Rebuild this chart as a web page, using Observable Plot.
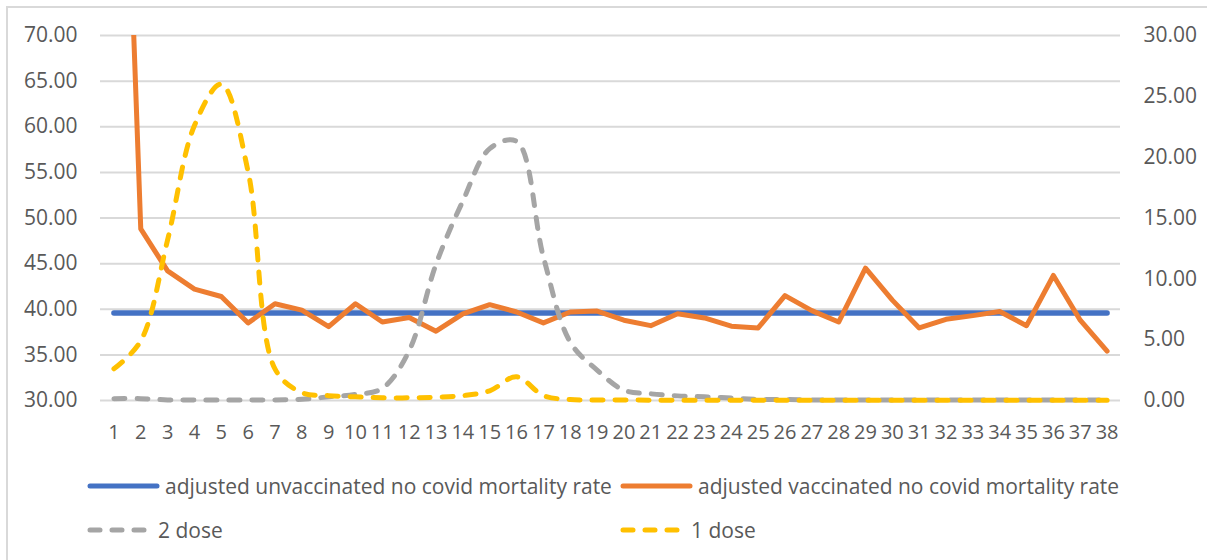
<!DOCTYPE html>
<html>
<head>
<meta charset="utf-8">
<script src="https://cdn.jsdelivr.net/npm/d3@7"></script>
<script src="https://cdn.jsdelivr.net/npm/@observablehq/plot@0.6"></script>
<style>
  html, body { margin: 0; padding: 0; background: #fff; overflow: hidden; }
  body { width: 1207px; height: 560px; position: relative; font-family: "Open Sans", sans-serif; color: #595959; }
  #frame { position: absolute; left: 6px; top: 6px; width: 1220px; height: 580px; border: 2px solid #d9d9d9; box-sizing: border-box; }
  #chart { position: absolute; left: 0; top: 0; }
  .leg { position: absolute; display: flex; align-items: center; font-size: 21px; color: #595959; white-space: nowrap; }
  .leg svg { margin-right: 4px; }
</style>
</head>
<body>
<div id="frame"></div>
<div id="chart"></div>
<div id="legend"></div>
<script>
// Categories (x axis)
const weeks = d3.range(1, 39);
// Left axis series
const unvaccinated = Array(38).fill(39.6);
const vaccinated = [130, 48.8, 44.2, 42.2, 41.4, 38.5, 40.6, 39.9, 38.1, 40.6, 38.6, 39.1, 37.6, 39.5, 40.5, 39.7, 38.5, 39.7, 39.8, 38.8, 38.2, 39.5, 39.05, 38.15, 37.95, 41.5, 39.85, 38.6, 44.5, 41.0, 37.95, 38.9, 39.3, 39.75, 38.2, 43.7, 38.8, 35.4];
// Right axis series
const dose2 = [0.15, 0.15, 0.05, 0.05, 0.05, 0.05, 0.05, 0.1, 0.3, 0.5, 1.0, 4.1, 11.2, 16.4, 20.7, 21.3, 11.8, 4.8, 2.5, 0.85, 0.55, 0.38, 0.3, 0.2, 0.1, 0.08, 0.05, 0.05, 0.05, 0.05, 0.05, 0.05, 0.05, 0.05, 0.05, 0.05, 0.05, 0.05];
const dose1 = [2.6, 4.9, 13.2, 22.6, 26.0, 18.8, 2.6, 0.65, 0.4, 0.3, 0.22, 0.22, 0.27, 0.4, 0.8, 1.95, 0.4, 0.08, 0.05, 0.05, 0.03, 0.03, 0.03, 0.03, 0.02, 0.02, 0.02, 0.02, 0.02, 0.02, 0.02, 0.02, 0.02, 0.02, 0.02, 0.02, 0.02, 0.02];
// Tick labels
const leftTicks = [30, 35, 40, 45, 50, 55, 60, 65, 70];
const rightTicks = [0, 5, 10, 15, 20, 25, 30];
const leftDomain = [30, 70];
const rightDomain = [0, 30];
const seriesNames = ["adjusted unvaccinated no covid mortality rate", "adjusted vaccinated no covid mortality rate", "2 dose", "1 dose"];
const colors = ["#4472C4", "#ED7D31", "#A5A5A5", "#FFC000"];

// map right-axis values onto the left scale
const toLeft = v => leftDomain[0] + (v - rightDomain[0]) * (leftDomain[1] - leftDomain[0]) / (rightDomain[1] - rightDomain[0]);
const fromLeft = v => rightDomain[0] + (v - leftDomain[0]) * (rightDomain[1] - rightDomain[0]) / (leftDomain[1] - leftDomain[0]);

const rows = (arr, f = d => d) => weeks.map((w, i) => ({week: w, value: f(arr[i])}));

const chart = Plot.plot({
  width: 1207,
  height: 460,
  marginLeft: 100,
  marginRight: 87,
  marginTop: 35,
  marginBottom: 60,
  style: {fontFamily: "'Open Sans', sans-serif", fontSize: "21px", color: "#595959", background: "transparent", overflow: "visible"},
  x: {type: "point", domain: weeks, padding: 0.5},
  y: {domain: leftDomain},
  marks: [
    Plot.ruleY(leftTicks, {stroke: "#d9d9d9", strokeWidth: 2}),
    Plot.axisY({anchor: "left", ticks: leftTicks, tickSize: 0, tickPadding: 23, tickFormat: d => d.toFixed(2), label: null, fill: "#595959", fontSize: 21}),
    Plot.axisY({anchor: "right", ticks: rightTicks.map(toLeft), tickSize: 0, tickPadding: 23, tickFormat: d => fromLeft(d).toFixed(2), label: null, fill: "#595959", fontSize: 21}),
    Plot.axisX({ticks: weeks, tickSize: 0, tickPadding: 24, label: null, fill: "#595959", fontSize: 20}),
    Plot.lineY(rows(unvaccinated), {x: "week", y: "value", stroke: colors[0], strokeWidth: 5.5, strokeLinecap: "round"}),
    Plot.lineY(rows(vaccinated), {x: "week", y: "value", stroke: colors[1], strokeWidth: 5, strokeLinecap: "round", strokeLinejoin: "round", clip: true}),
    Plot.lineY(rows(dose2, toLeft), {x: "week", y: "value", stroke: colors[2], strokeWidth: 5, strokeDasharray: "11,12", strokeLinecap: "round", curve: "catmull-rom"}),
    Plot.lineY(rows(dose1, toLeft), {x: "week", y: "value", stroke: colors[3], strokeWidth: 5, strokeDasharray: "11,12", strokeLinecap: "round", curve: "catmull-rom"})
  ]
});
document.getElementById("chart").appendChild(chart);

// Legend
const legPos = [[86, 486], [619, 486], [86, 530], [619, 530]];
const legend = document.getElementById("legend");
seriesNames.forEach((name, i) => {
  const div = document.createElement("div");
  div.className = "leg";
  div.style.left = legPos[i][0] + "px";
  div.style.top = (legPos[i][1] - 15) + "px";
  div.style.height = "30px";
  const dashed = i >= 2;
  const w = dashed ? 64 : 71;
  div.innerHTML = `<svg width="${w + 4}" height="10"><line x1="4" x2="${w}" y1="5" y2="5" stroke="${colors[i]}" stroke-width="5" stroke-linecap="round" ${dashed ? 'stroke-dasharray="10,12"' : ''}/></svg><span>${name}</span>`;
  legend.appendChild(div);
});
</script>
</body>
</html>
